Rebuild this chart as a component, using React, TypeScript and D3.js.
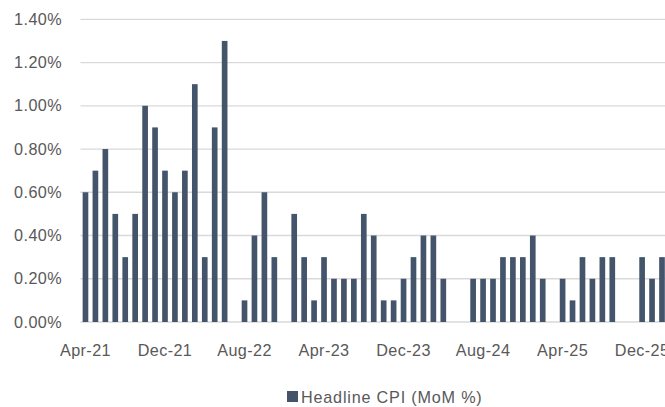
import React from 'react';
import * as d3 from 'd3';

const months = [
  'Apr-21', 'May-21', 'Jun-21', 'Jul-21', 'Aug-21', 'Sep-21', 'Oct-21', 'Nov-21',
  'Dec-21', 'Jan-22', 'Feb-22', 'Mar-22', 'Apr-22', 'May-22', 'Jun-22', 'Jul-22',
  'Aug-22', 'Sep-22', 'Oct-22', 'Nov-22', 'Dec-22', 'Jan-23', 'Feb-23', 'Mar-23',
  'Apr-23', 'May-23', 'Jun-23', 'Jul-23', 'Aug-23', 'Sep-23', 'Oct-23', 'Nov-23',
  'Dec-23', 'Jan-24', 'Feb-24', 'Mar-24', 'Apr-24', 'May-24', 'Jun-24', 'Jul-24',
  'Aug-24', 'Sep-24', 'Oct-24', 'Nov-24', 'Dec-24', 'Jan-25', 'Feb-25', 'Mar-25',
  'Apr-25', 'May-25', 'Jun-25', 'Jul-25', 'Aug-25', 'Sep-25', 'Oct-25', 'Nov-25',
  'Dec-25', 'Jan-26', 'Feb-26',
];

// headline CPI, month on month, in %
const cpiMoM = [
  0.6, 0.7, 0.8, 0.5, 0.3, 0.5, 1.0, 0.9,
  0.7, 0.6, 0.7, 1.1, 0.3, 0.9, 1.3, 0.0,
  0.1, 0.4, 0.6, 0.3, 0.0, 0.5, 0.3, 0.1,
  0.3, 0.2, 0.2, 0.2, 0.5, 0.4, 0.1, 0.1,
  0.2, 0.3, 0.4, 0.4, 0.2, 0.0, 0.0, 0.2,
  0.2, 0.2, 0.3, 0.3, 0.3, 0.4, 0.2, 0.0,
  0.2, 0.1, 0.3, 0.2, 0.3, 0.3, 0.0, 0.0,
  0.3, 0.2, 0.3,
];

const tickLabels = ['Apr-21', 'Dec-21', 'Aug-22', 'Apr-23', 'Dec-23', 'Aug-24', 'Apr-25', 'Dec-25'];
const yTicks = [0, 0.2, 0.4, 0.6, 0.8, 1.0, 1.2, 1.4];
const seriesName = 'Headline CPI (MoM %)';

const W = 665;
const H = 407;
const left = 80.5;
const top = 19.3;
const bottom = 322;
const step = 9.94;
const barColor = '#44546a';
const textColor = '#595959';
const font = '"Liberation Sans", Arial, sans-serif';
const fs = 16.2;
const ls = 0.4;

export default function App() {
  const x = d3.scaleBand<string>()
    .domain(months)
    .range([left, left + step * months.length])
    .paddingInner(0.43)
    .paddingOuter(0.215);

  const y = d3.scaleLinear().domain([0, 1.4]).range([bottom, top]);
  const fmt = d3.format('.2%');

  return (
    <svg width={W} height={H} style={{ position: 'absolute', left: 0, top: 0, background: '#fff' }}>
      {yTicks.map(t => (
        <g key={t}>
          <line x1={left} x2={W} y1={y(t)} y2={y(t)} stroke="#d9d9d9" strokeWidth={1.3} />
          <text x={62} y={y(t)} dy="0.35em" textAnchor="end" fontFamily={font} fontSize={fs}
            letterSpacing={ls} fill={textColor}>
            {fmt(t / 100)}
          </text>
        </g>
      ))}
      {months.map((m, i) => cpiMoM[i] > 0 ? (
        <rect key={m} x={x(m)} y={y(cpiMoM[i])} width={x.bandwidth()} height={bottom - y(cpiMoM[i])} fill={barColor} />
      ) : null)}
      {tickLabels.map(m => (
        <text key={m} x={(x(m) ?? 0) + x.bandwidth() / 2} y={350} dy="0.35em" textAnchor="middle"
          fontFamily={font} fontSize={fs} letterSpacing={ls} fill={textColor}>
          {m}
        </text>
      ))}
      <g transform="translate(287,391)">
        <rect width={11} height={11} fill={barColor} />
        <text x={14} y={6} dy="0.35em" fontFamily={font} fontSize={fs} letterSpacing={0.8} fill={textColor}>
          {seriesName}
        </text>
      </g>
    </svg>
  );
}
